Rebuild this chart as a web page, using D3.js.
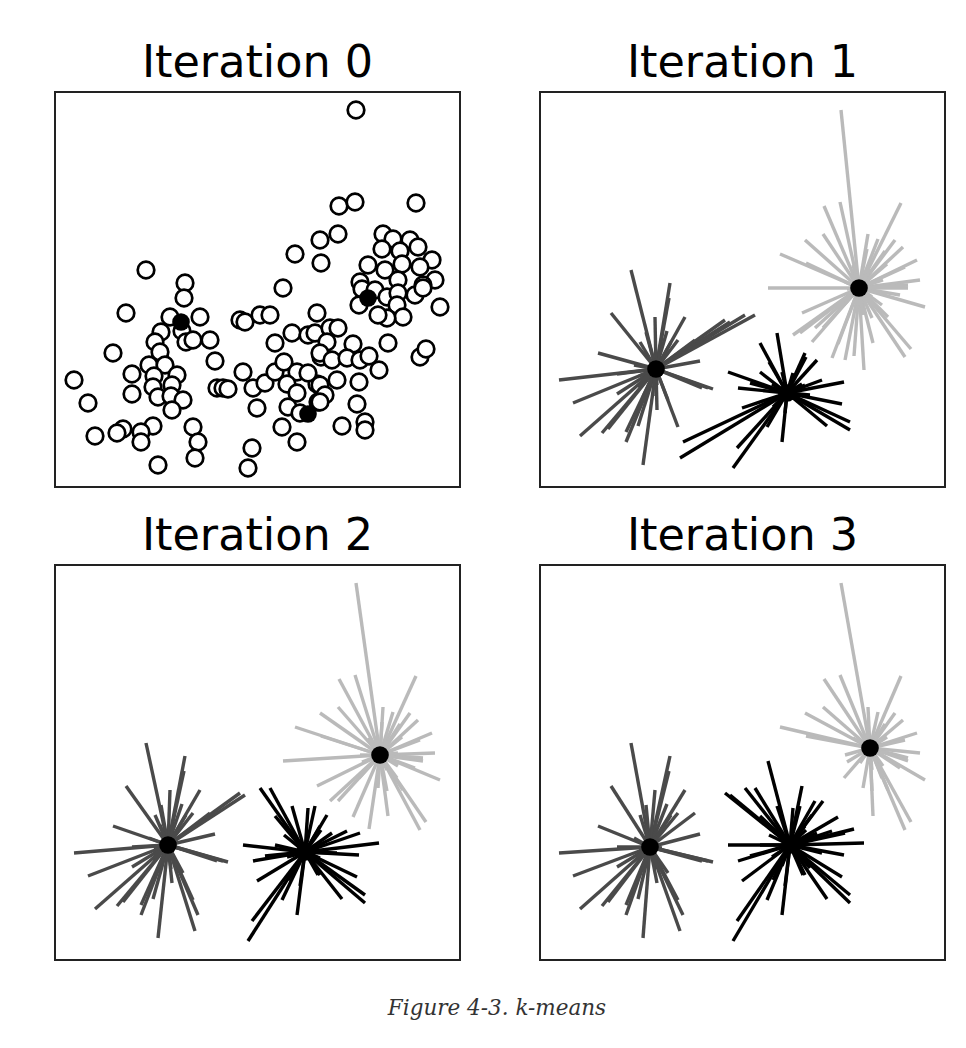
<!DOCTYPE html>
<html><head><meta charset="utf-8">
<script src="https://cdn.jsdelivr.net/npm/d3@7"></script>
<style>body{margin:0;background:#fff;}svg{display:block;}</style>
</head><body>
<svg id="c" width="966" height="1048"></svg>
<script>
// Data points (x, y in data units; y up)
const pointsX = [91,130,129,71,115,106,100,127,131,105,58,94,110,77,99,122,117,19,98,77,103,116,128,117,33,138,98,68,62,86,40,86,143,140,103,145,138,155,160,
185,190,205,215,228,220,237,188,198,210,162,168,173,202,220,229,242,232,242,233,227,245,263,262,253,266,242,197,193,253,260,262,275,283,272,298,265,277,292,305,314,324,282,304,265,270,265,302,287,310,310,333,365,371,
301,284,300,361,265,283,240,266,328,338,355,327,345,363,377,313,330,347,365,380,305,343,368,307,320,332,343,342,348,332,323,360,368,385,304];
const pointsY = [217,204,189,174,170,155,145,156,145,135,134,122,122,113,111,112,102,107,100,93,90,91,87,77,84,60,61,58,54,55,51,45,45,29,22,170,147,147,126,
167,165,172,172,199,144,154,115,99,104,99,99,98,79,115,125,115,103,94,80,60,74,85,103,114,130,45,39,19,152,154,174,159,159,145,143,134,127,129,127,131,117,107,105,102,92,85,83,61,65,57,144,130,138,
377,281,285,284,247,253,233,224,253,248,247,238,236,240,227,222,217,223,220,207,205,207,202,198,197,190,194,182,170,169,172,192,199,180,182];

const iterations = ["Iteration 0", "Iteration 1", "Iteration 2", "Iteration 3"];
// centroids per iteration: [cluster0, cluster1, cluster2]
const centroidsX = [[126,253,313],[116,247,319],[113,250,325],[110,250,330]];
const centroidsY = [[165,73,189],[118,94,199],[115,108,205],[113,115,212]];
const clusterColors = ["#4a4a4a", "#000000", "#bababa"];
const caption = "Figure 4-3. k-means";

const svg = d3.select("#c");
const W = 405, H = 395;
const origins = [[55,92],[540,92],[55,565],[540,565]];
const x = d3.scaleLinear().domain([0,405]).range([0,W]);
const y = d3.scaleLinear().domain([0,395]).range([H,0]);

const pts = pointsX.map((v,i)=>({x:v,y:pointsY[i]}));

function nearest(p, it){
  let best=0, bd=Infinity;
  for(let k=0;k<3;k++){
    const dx=p.x-centroidsX[it][k], dy=p.y-centroidsY[it][k];
    const d=dx*dx+dy*dy;
    if(d<bd){bd=d;best=k;}
  }
  return best;
}

iterations.forEach((title, it)=>{
  const [ox,oy] = origins[it];
  const g = svg.append("g").attr("transform",`translate(${ox},${oy})`);
  svg.append("text").attr("x", ox+W/2).attr("y", oy-15)
    .attr("text-anchor","middle").attr("font-family","DejaVu Sans")
    .attr("font-size",44.5).attr("fill","#000").text(title);
  g.append("clipPath").attr("id","clip"+it).append("rect").attr("width",W).attr("height",H);
  const inner = g.append("g").attr("clip-path",`url(#clip${it})`);
  if(it===0){
    inner.selectAll("circle.p").data(pts).join("circle").attr("class","p")
      .attr("cx",d=>x(d.x)).attr("cy",d=>y(d.y)).attr("r",8.3)
      .attr("fill","#fff").attr("stroke","#000").attr("stroke-width",2.7);
  } else {
    const assigned = pts.map(p=>({...p, k: nearest(p, it-1)}));
    [0,2,1].forEach(k=>{
      inner.selectAll("line.c"+k).data(assigned.filter(d=>d.k===k)).join("line")
        .attr("x1",x(centroidsX[it][k])).attr("y1",y(centroidsY[it][k]))
        .attr("x2",d=>x(d.x)).attr("y2",d=>y(d.y))
        .attr("stroke",clusterColors[k]).attr("stroke-width",3.4);
    });
  }
  inner.selectAll("circle.c").data([0,1,2]).join("circle").attr("class","c")
    .attr("cx",k=>x(centroidsX[it][k])).attr("cy",k=>y(centroidsY[it][k])).attr("r",8.8)
    .attr("fill","#000");
  g.append("rect").attr("width",W).attr("height",H).attr("fill","none")
    .attr("stroke","#222").attr("stroke-width",2);
});

svg.append("text").attr("x",497).attr("y",1015).attr("text-anchor","middle")
  .attr("font-family","DejaVu Serif").attr("font-style","italic")
  .attr("font-size",21.5).attr("fill","#333").text(caption);
</script>
</body></html>
